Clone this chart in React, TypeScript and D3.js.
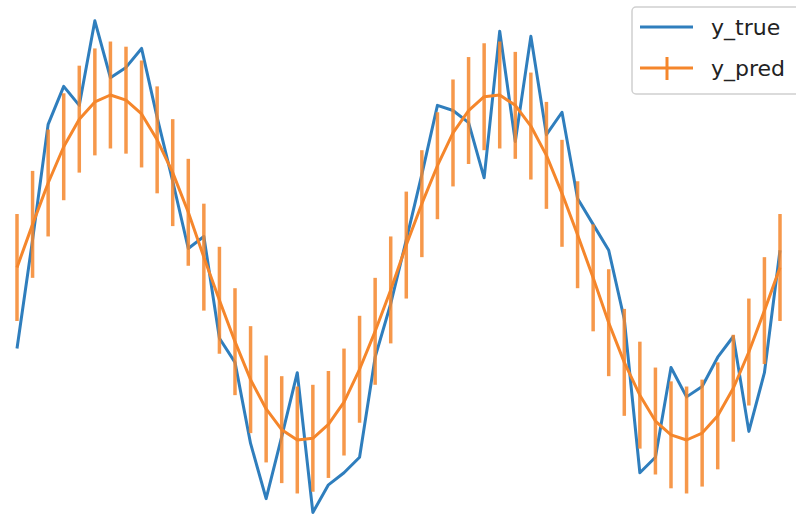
import React, { useEffect, useRef } from 'react'
import * as d3 from 'd3'

// sample index 0..49
const idx = d3.range(50)

// y_true
const yTrue = [
	-0.47, 0.16, 0.83, 1.05, 0.94, 1.43, 1.10, 1.16, 1.27, 0.87,
	0.50, 0.11, 0.18, -0.41, -0.55, -1.02, -1.34, -0.98, -0.61, -1.42,
	-1.26, -1.19, -1.10, -0.52, -0.21, 0.16, 0.54, 0.94, 0.91, 0.84,
	0.52, 1.37, 0.73, 1.34, 0.77, 0.90, 0.40, 0.25, 0.10, -0.30,
	-1.19, -1.10, -0.58, -0.75, -0.69, -0.52, -0.40, -0.95, -0.61, 0.10
]

// y_pred (smooth curve)
const yPred = [
	0.00, 0.25, 0.49, 0.70, 0.86, 0.96, 1.00, 0.97, 0.89, 0.74,
	0.55, 0.32, 0.06, -0.19, -0.43, -0.65, -0.82, -0.94, -1.00, -0.99,
	-0.91, -0.78, -0.59, -0.37, -0.13, 0.13, 0.37, 0.59, 0.78, 0.91,
	0.99, 1.00, 0.94, 0.82, 0.65, 0.43, 0.19, -0.06, -0.32, -0.55,
	-0.74, -0.89, -0.97, -1.00, -0.96, -0.86, -0.70, -0.49, -0.25, 0.00
]

const yErr = 0.31

const seriesNames = ['y_true', 'y_pred']
const blue = '#2f7ebd'
const orange = '#f5862b'

export default function App() {
	const ref = useRef<SVGSVGElement>(null)

	useEffect(() => {
		const svg = d3.select(ref.current)
		svg.selectAll('*').remove()

		const x = d3.scaleLinear().domain([0, 49]).range([17, 780])
		const y = d3.scaleLinear().domain([-1, 1]).range([440, 95])

		const line = d3.line<number>()
			.x((d, i) => x(i))
			.y(d => y(d))

		// y_true
		svg.append('path')
			.datum(yTrue)
			.attr('d', line)
			.attr('fill', 'none')
			.attr('stroke', blue)
			.attr('stroke-width', 3)
			.attr('stroke-linejoin', 'round')

		// error bars
		svg.append('g')
			.selectAll('line')
			.data(idx)
			.join('line')
				.attr('x1', i => x(i))
				.attr('x2', i => x(i))
				.attr('y1', i => y(yPred[i] + yErr))
				.attr('y2', i => y(yPred[i] - yErr))
				.attr('stroke', orange)
				.attr('stroke-opacity', 0.85)
				.attr('stroke-width', 3.5)

		// y_pred
		svg.append('path')
			.datum(yPred)
			.attr('d', line)
			.attr('fill', 'none')
			.attr('stroke', orange)
			.attr('stroke-width', 3)
			.attr('stroke-linejoin', 'round')

		// legend
		const lg = svg.append('g').attr('transform', 'translate(632,7)')
		lg.append('rect')
			.attr('width', 190)
			.attr('height', 87)
			.attr('rx', 4)
			.attr('fill', 'white')
			.attr('fill-opacity', 0.8)
			.attr('stroke', '#d0d0d0')
			.attr('stroke-width', 1.5)

		const rows = lg.selectAll('g.row')
			.data(seriesNames)
			.join('g')
				.attr('class', 'row')
				.attr('transform', (d, i) => `translate(0,${20 + i * 41})`)

		rows.append('line')
			.attr('x1', 8)
			.attr('x2', 61)
			.attr('stroke', (d, i) => (i === 0 ? blue : orange))
			.attr('stroke-width', 3)

		rows.filter((d, i) => i === 1)
			.append('line')
				.attr('x1', 35)
				.attr('x2', 35)
				.attr('y1', -11)
				.attr('y2', 12)
				.attr('stroke', orange)
				.attr('stroke-width', 3)

		rows.append('text')
			.attr('x', 79)
			.attr('y', 8)
			.attr('font-family', 'DejaVu Sans')
			.attr('font-size', 22)
			.attr('fill', '#222')
			.text(d => d)
	}, [])

	return (
		<svg ref={ref} width={796} height={515}
			style={{ position: 'absolute', left: 0, top: 0, background: 'white' }} />
	)
}
